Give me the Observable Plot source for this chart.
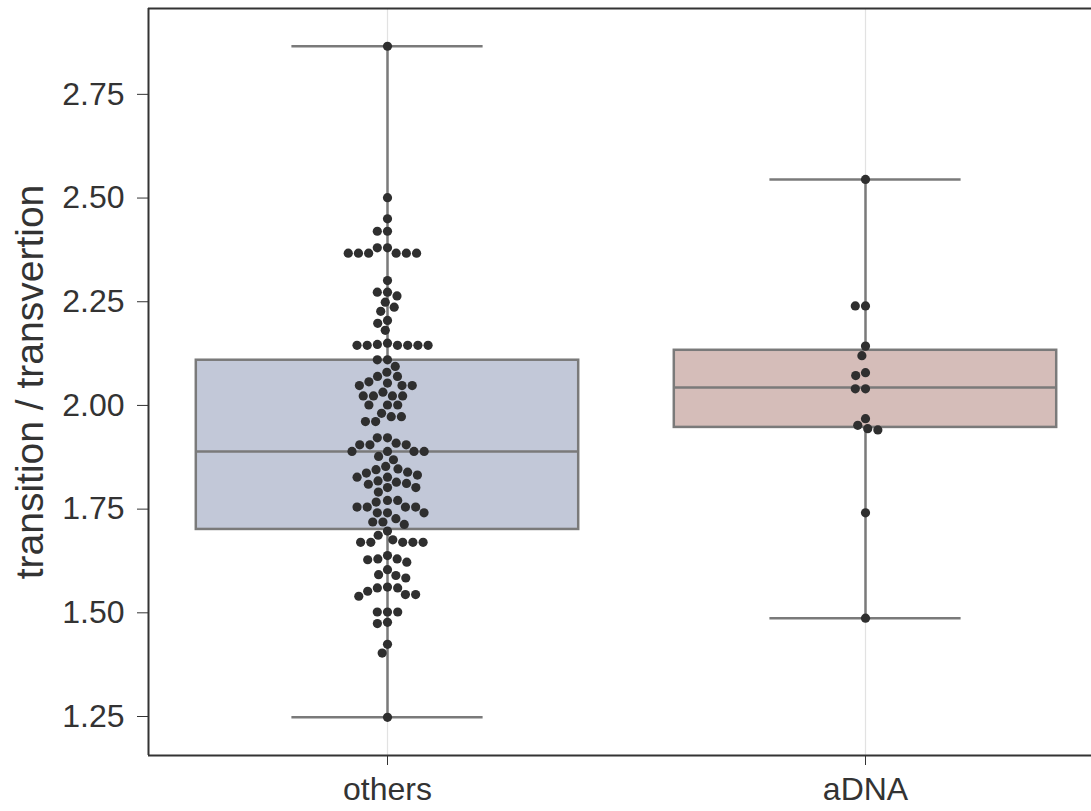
<!DOCTYPE html>
<html>
<head>
<meta charset="utf-8">
<script src="https://cdn.jsdelivr.net/npm/d3@7"></script>
<script src="https://cdn.jsdelivr.net/npm/@observablehq/plot@0.6"></script>
<style>
  html, body { margin: 0; padding: 0; background: #ffffff; overflow: hidden; }
  #chart { width: 1091px; height: 811px; overflow: hidden; }
  #chart svg { max-width: none !important; }
</style>
</head>
<body>
<div id="chart"></div>
<script>
const categories = ["others", "aDNA"];

const othersValues = [
  2.866, 2.501, 2.450, 2.420, 2.420, 2.380, 2.380,
  2.367, 2.367, 2.367, 2.367, 2.367, 2.367,
  2.301, 2.273, 2.273, 2.264, 2.249, 2.237, 2.227, 2.205, 2.198, 2.181,
  2.150, 2.147, 2.145, 2.145, 2.145, 2.145, 2.145, 2.145,
  2.110, 2.110, 2.094, 2.080, 2.070, 2.070, 2.057, 2.054,
  2.048, 2.048, 2.048, 2.032, 2.023, 2.023, 2.023, 2.023,
  2.001, 2.001, 2.001, 1.981, 1.973, 1.973, 1.961, 1.961,
  1.922, 1.922, 1.909, 1.905, 1.905, 1.905, 1.889, 1.889, 1.889, 1.889,
  1.877, 1.869, 1.853, 1.847, 1.845, 1.839, 1.837, 1.832, 1.827, 1.827,
  1.818, 1.815, 1.812, 1.810, 1.802, 1.802, 1.791, 1.771, 1.771, 1.767,
  1.755, 1.755, 1.755, 1.755, 1.741, 1.741, 1.741,
  1.727, 1.719, 1.719, 1.713, 1.697, 1.687,
  1.676, 1.670, 1.670, 1.670, 1.670, 1.670,
  1.638, 1.630, 1.630, 1.628, 1.622, 1.604, 1.592, 1.590, 1.584,
  1.562, 1.560, 1.560, 1.552, 1.544, 1.544, 1.540,
  1.502, 1.502, 1.502, 1.477, 1.474, 1.424, 1.403, 1.248
];

const aDNAValues = [
  2.545, 2.240, 2.240, 2.143, 2.120, 2.079, 2.072, 2.040, 2.040,
  1.968, 1.952, 1.944, 1.941, 1.741, 1.487
];

// box statistics per category (same order as categories)
const q1 = [1.701, 1.947];
const median = [1.889, 2.043];
const q3 = [2.109, 2.133];
const whiskerLow = [1.248, 1.487];
const whiskerHigh = [2.866, 2.545];

const yTicks = [1.25, 1.50, 1.75, 2.00, 2.25, 2.50, 2.75];
const yDomain = [1.156, 2.957];
const yLabel = "transition / transvertion";

const stats = categories.map((c, i) => ({
  cat: c, q1: q1[i], med: median[i], q3: q3[i], lo: whiskerLow[i], hi: whiskerHigh[i]
}));
const points = [
  ...othersValues.map(v => ({cat: "others", v})),
  ...aDNAValues.map(v => ({cat: "aDNA", v}))
];

const boxColors = ["#c2c8d8", "#d5bdb9"];
const lineGray = "#7a7a7a";

const chart = Plot.plot({
  width: 1104,
  height: 811,
  marginLeft: 148,
  marginRight: 0,
  marginTop: 8,
  marginBottom: 56,
  style: {
    fontFamily: "'Liberation Sans', Arial, sans-serif",
    fontSize: "32px",
    color: "#333333",
    background: "#ffffff",
    maxWidth: "none"
  },
  fx: {domain: categories, padding: 0, label: null, axis: "bottom", tickSize: 10, tickPadding: 12},
  x: {domain: [-0.5, 0.5], axis: null},
  y: {domain: yDomain, ticks: yTicks, tickFormat: ".2f", tickSize: 11, tickPadding: 13, label: null},
  color: {domain: categories, range: boxColors},
  marks: [
    Plot.ruleX(stats, {fx: "cat", x: 0, stroke: "#e2e2e2", strokeWidth: 1.2}),
    Plot.ruleX(stats, {fx: "cat", x: 0, y1: "lo", y2: "hi", stroke: lineGray, strokeWidth: 2.5}),
    Plot.ruleY(stats, {fx: "cat", y: "lo", x1: -0.2, x2: 0.2, stroke: lineGray, strokeWidth: 2.5}),
    Plot.ruleY(stats, {fx: "cat", y: "hi", x1: -0.2, x2: 0.2, stroke: lineGray, strokeWidth: 2.5}),
    Plot.rect(stats, {fx: "cat", x1: -0.4, x2: 0.4, y1: "q1", y2: "q3", fill: "cat", stroke: lineGray, strokeWidth: 2.5}),
    Plot.ruleY(stats, {fx: "cat", y: "med", x1: -0.4, x2: 0.4, stroke: lineGray, strokeWidth: 2.5}),
    Plot.dot(points, Plot.dodgeX("middle", {fx: "cat", y: "v", r: 4.6, padding: 0, fill: "#2f2f2f"})),
    // frame
    Plot.ruleY(stats, {fx: "cat", y: yDomain[1], x1: -0.5, x2: 0.5, stroke: "#333333", strokeWidth: 2}),
    Plot.ruleY(stats, {fx: "cat", y: yDomain[0], x1: -0.5, x2: 0.5, stroke: "#333333", strokeWidth: 2}),
    Plot.ruleX([categories[0]], {fx: d => d, x: -0.5, stroke: "#333333", strokeWidth: 2}),
    Plot.ruleX([categories[1]], {fx: d => d, x: 0.5, stroke: "#333333", strokeWidth: 2}),
    Plot.text([yLabel], {fx: [categories[0]], frameAnchor: "left", textAnchor: "middle", lineAnchor: "middle", dx: -118, rotate: -90, fontSize: 39, fill: "#333333"})
  ]
});
chart.style.maxWidth = "none";
document.getElementById("chart").appendChild(chart);
</script>
</body>
</html>
